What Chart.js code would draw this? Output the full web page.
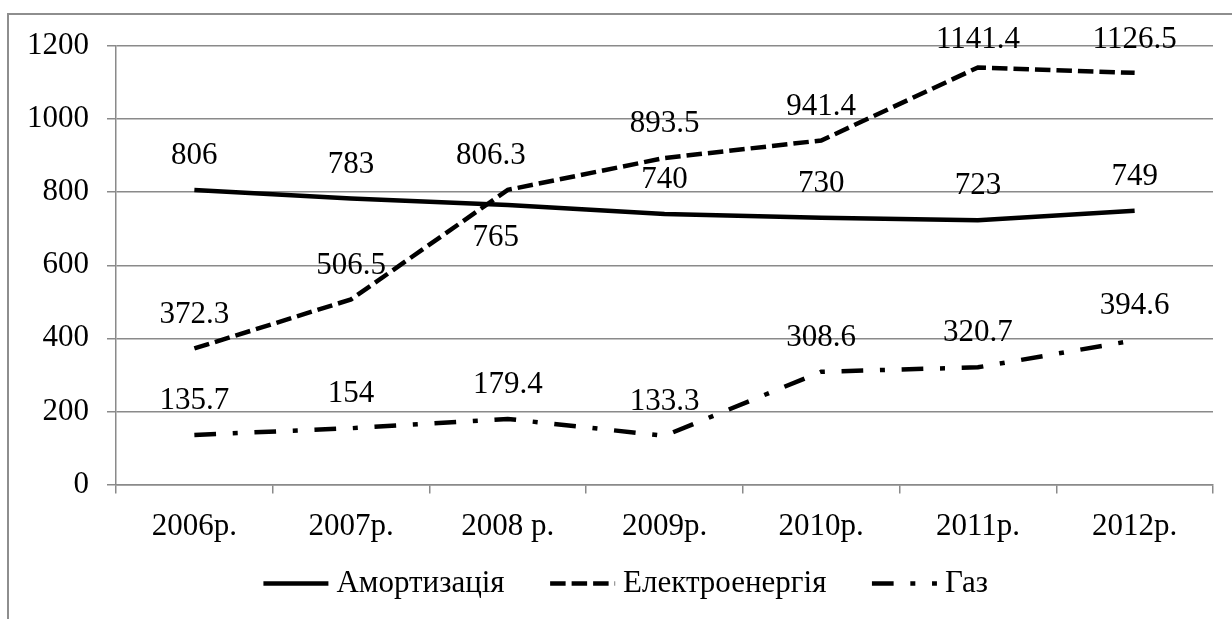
<!DOCTYPE html>
<html lang="uk">
<head>
    <meta charset="UTF-8">
    <title>Амортизація, електроенергія, газ</title>
    <script src="https://cdn.jsdelivr.net/npm/chart.js"></script>
    <style>
        body {
            margin: 0;
            background: #fff;
        }
        .frame {
            position: absolute;
            left: 7px;
            top: 13px;
            width: 1300px;
            height: 700px;
            border-left: 2px solid #8e8e8e;
            border-top: 2px solid #8e8e8e;
        }
        .wrap {
            position: absolute;
            left: 0;
            top: 0;
            width: 1232px;
            height: 619px;
        }
    </style>
</head>
<body>
    <div class="frame"></div>
    <div class="wrap"><canvas id="chart"></canvas></div>

    <script>
        // Дані графіка
        const years = ["2006р.", "2007р.", "2008 р.", "2009р.", "2010р.", "2011р.", "2012р."];
        const amortization = [806, 783, 765, 740, 730, 723, 749];
        const electricity = [372.3, 506.5, 806.3, 893.5, 941.4, 1141.4, 1126.5];
        const gas = [135.7, 154, 179.4, 133.3, 308.6, 320.7, 394.6];
        const seriesNames = ["Амортизація", "Електроенергія", "Газ"];
        const yMin = 0;
        const yMax = 1200;
        const yStep = 200;

        const fontFamily = "'Liberation Serif', 'Times New Roman', serif";
        const grey = "#8a8a8a";

        // Підписи значень над точками
        const valueLabels = {
            id: "valueLabels",
            afterDatasetsDraw(chart, args, opts) {
                const ctx = chart.ctx;
                ctx.save();
                ctx.font = opts.size + "px " + fontFamily;
                ctx.fillStyle = "#000";
                ctx.textAlign = "center";
                ctx.textBaseline = "middle";
                chart.data.datasets.forEach((ds, i) => {
                    chart.getDatasetMeta(i).data.forEach((pt, j) => {
                        const shift = (opts.shifts[i] && opts.shifts[i][j]) || [0, opts.dy];
                        const y = Math.max(pt.y + shift[1], opts.minY);
                        ctx.fillText(String(ds.data[j]), pt.x + shift[0], y);
                    });
                });
                ctx.restore();
            }
        };

        // Зразки ліній у легенді (з пунктиром, як у серій)
        const legendLines = {
            id: "legendLines",
            afterDraw(chart, args, opts) {
                const legend = chart.legend;
                if (!legend || !legend.legendHitBoxes) return;
                const ctx = chart.ctx;
                ctx.save();
                legend.legendHitBoxes.forEach((box, i) => {
                    const ds = chart.data.datasets[i];
                    const y = box.top + box.height / 2;
                    ctx.beginPath();
                    ctx.setLineDash(ds.borderDash || []);
                    ctx.lineWidth = ds.borderWidth;
                    ctx.strokeStyle = ds.borderColor;
                    ctx.lineCap = "butt";
                    ctx.moveTo(box.left + opts.start, y);
                    ctx.lineTo(box.left + opts.end, y);
                    ctx.stroke();
                });
                ctx.restore();
            }
        };

        const chart = new Chart(document.getElementById("chart"), {
            type: "line",
            data: {
                labels: years,
                datasets: [
                    {
                        label: seriesNames[0],
                        data: amortization,
                        borderColor: "#000",
                        backgroundColor: "#000",
                        borderWidth: 4.5,
                        pointRadius: 0
                    },
                    {
                        label: seriesNames[1],
                        data: electricity,
                        borderColor: "#000",
                        backgroundColor: "#000",
                        borderWidth: 4.5,
                        borderDash: [15.5, 6],
                        pointRadius: 0
                    },
                    {
                        label: seriesNames[2],
                        data: gas,
                        borderColor: "#000",
                        backgroundColor: "#000",
                        borderWidth: 4.5,
                        borderDash: [21.7, 16.7, 5, 16.7],
                        pointRadius: 0
                    }
                ]
            },
            options: {
                responsive: true,
                maintainAspectRatio: false,
                animation: false,
                layout: {
                    padding: { top: 46, right: 19, bottom: 10, left: 13 }
                },
                scales: {
                    x: {
                        offset: true,
                        grid: { offset: true, drawOnChartArea: false, tickLength: 9, color: grey, lineWidth: 1.5 },
                        border: { color: grey, width: 1.5 },
                        ticks: {
                            color: "#000",
                            font: { family: fontFamily, size: 31 },
                            padding: 15,
                            maxRotation: 0,
                            autoSkip: false
                        },
                        afterFit(scale) { scale.height = 63.5; }
                    },
                    y: {
                        min: yMin,
                        max: yMax,
                        grid: { color: grey, lineWidth: 1.5, tickLength: 9 },
                        border: { color: grey, width: 1.5 },
                        ticks: {
                            stepSize: yStep,
                            color: "#000",
                            font: { family: fontFamily, size: 31 },
                            padding: 18,
                            callback: (v) => String(v)
                        },
                        afterFit(scale) { scale.width = 103; }
                    }
                },
                plugins: {
                    legend: {
                        position: "bottom",
                        labels: {
                            usePointStyle: true,
                            pointStyle: "line",
                            pointStyleWidth: 83,
                            boxHeight: 31,
                            color: "#000",
                            font: { family: fontFamily, size: 31 },
                            padding: 20,
                            generateLabels(chart) {
                                const items = Chart.defaults.plugins.legend.labels.generateLabels(chart);
                                items.forEach((it) => {
                                    it.strokeStyle = "rgba(0,0,0,0)";
                                    it.fillStyle = "rgba(0,0,0,0)";
                                });
                                return items;
                            }
                        }
                    },
                    tooltip: { enabled: false },
                    legendLines: { start: 25.5, end: 90.5 },
                    valueLabels: {
                        size: 31,
                        dy: -34,
                        minY: 40,
                        shifts: [
                            [null, null, [-12, 33]],
                            [null, null, [-17, -34]]
                        ]
                    }
                }
            },
            plugins: [valueLabels, legendLines]
        });
    </script>
</body>
</html>
